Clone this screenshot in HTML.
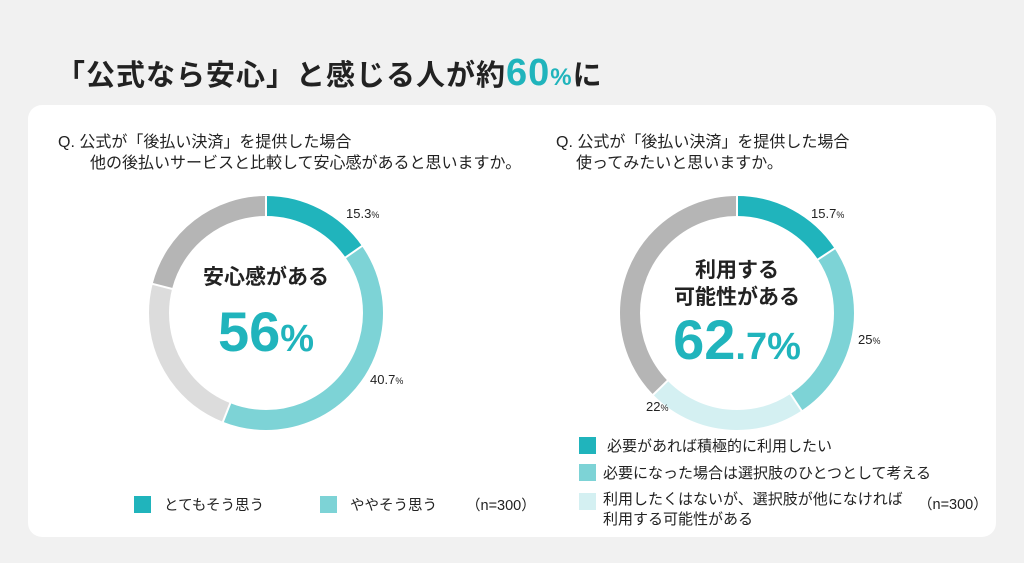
<!DOCTYPE html>
<html><head><meta charset="utf-8"><style>
body{margin:0;width:1024px;height:563px;background:#f1f1f1;font-family:"Liberation Sans","Noto Sans CJK JP",sans-serif;position:relative;overflow:hidden;color:#222}
.t{position:absolute;white-space:nowrap}
.card{position:absolute;left:28px;top:105px;width:968px;height:432px;background:#fff;border-radius:14px}
.sq{position:absolute;width:17px;height:17px}
</style></head><body>
<div class="t" style="left:56px;top:52px;font-size:29px;font-weight:bold;letter-spacing:1px">「公式なら安心」と感じる人が約<span style="color:#20b4bc;font-size:38px">60</span><span style="color:#20b4bc;font-size:24px">%</span>に</div>
<div class="card"></div>
<div class="t" style="left:58px;top:132px;font-size:16px;line-height:21px">Q. 公式が「後払い決済」を提供した場合<br><span style="padding-left:32px">他の後払いサービスと比較して安心感があると思いますか。</span></div>
<div class="t" style="left:556px;top:132px;font-size:16px;line-height:21px">Q. 公式が「後払い決済」を提供した場合<br><span style="padding-left:20px">使ってみたいと思いますか。</span></div>
<svg class="t" style="left:0;top:0" width="1024" height="563">
<g transform="translate(266,313) rotate(-90)" fill="none" stroke-width="20">
<circle r="107" stroke="#20b4bc" stroke-dasharray="102.9 1000"/>
<circle r="107" stroke="#7dd3d6" stroke-dasharray="0 102.9 273.6 1000"/>
<circle r="107" stroke="#dcdcdc" stroke-dasharray="0 376.5 154.6 1000"/>
<circle r="107" stroke="#b5b5b5" stroke-dasharray="0 531.1 141.2 1000"/>
<g stroke="#fff" stroke-width="2">
<line x1="90" y1="0" x2="125" y2="0"/>
<line x1="90" y1="0" x2="125" y2="0" transform="rotate(55.08)"/>
<line x1="90" y1="0" x2="125" y2="0" transform="rotate(201.6)"/>
<line x1="90" y1="0" x2="125" y2="0" transform="rotate(284.4)"/>
</g>
</g>
<g transform="translate(737,313) rotate(-90)" fill="none" stroke-width="20">
<circle r="107" stroke="#20b4bc" stroke-dasharray="105.6 1000"/>
<circle r="107" stroke="#7dd3d6" stroke-dasharray="0 105.6 168.1 1000"/>
<circle r="107" stroke="#d4f0f2" stroke-dasharray="0 273.7 147.9 1000"/>
<circle r="107" stroke="#b5b5b5" stroke-dasharray="0 421.6 250.7 1000"/>
<g stroke="#fff" stroke-width="2">
<line x1="90" y1="0" x2="125" y2="0"/>
<line x1="90" y1="0" x2="125" y2="0" transform="rotate(56.52)"/>
<line x1="90" y1="0" x2="125" y2="0" transform="rotate(146.52)"/>
<line x1="90" y1="0" x2="125" y2="0" transform="rotate(225.72)"/>
</g>
</g>
</svg>
<div class="t" style="left:346px;top:206px;font-size:13px">15.3<span style="font-size:9px">%</span></div>
<div class="t" style="left:370px;top:372px;font-size:13px">40.7<span style="font-size:9px">%</span></div>
<div class="t" style="left:811px;top:206px;font-size:13px">15.7<span style="font-size:9px">%</span></div>
<div class="t" style="left:858px;top:332px;font-size:13px">25<span style="font-size:9px">%</span></div>
<div class="t" style="left:646px;top:399px;font-size:13px">22<span style="font-size:9px">%</span></div>
<div class="t" style="left:166px;top:261px;width:200px;text-align:center;font-size:21px;font-weight:bold">安心感がある</div>
<div class="t" style="left:166px;top:300px;width:200px;text-align:center;font-size:56px;font-weight:bold;color:#20b4bc;line-height:64px">56<span style="font-size:38px">%</span></div>
<div class="t" style="left:637px;top:257px;width:200px;text-align:center;font-size:21px;font-weight:bold;line-height:27px">利用する<br>可能性がある</div>
<div class="t" style="left:637px;top:308px;width:200px;text-align:center;font-size:56px;font-weight:bold;color:#20b4bc;line-height:64px">62<span style="font-size:38px">.7</span><span style="font-size:38px">%</span></div>
<div class="sq" style="left:134px;top:496px;background:#20b4bc"></div>
<div class="t" style="left:164px;top:494px;font-size:14.5px">とてもそう思う</div>
<div class="sq" style="left:320px;top:496px;background:#7dd3d6"></div>
<div class="t" style="left:350px;top:494px;font-size:14.5px">ややそう思う</div>
<div class="t" style="left:466px;top:494px;font-size:14.5px">（n=300）</div>
<div class="sq" style="left:579px;top:437px;background:#20b4bc"></div>
<div class="t" style="left:607px;top:435px;font-size:15px">必要があれば積極的に利用したい</div>
<div class="sq" style="left:579px;top:464px;background:#7dd3d6"></div>
<div class="t" style="left:603px;top:462px;font-size:15px">必要になった場合は選択肢のひとつとして考える</div>
<div class="sq" style="left:579px;top:493px;background:#d4f0f2"></div>
<div class="t" style="left:603px;top:490px;font-size:15px;line-height:20px">利用したくはないが、選択肢が他になければ<br>利用する可能性がある</div>
<div class="t" style="left:918px;top:493px;font-size:14.5px">（n=300）</div>
</body></html>
